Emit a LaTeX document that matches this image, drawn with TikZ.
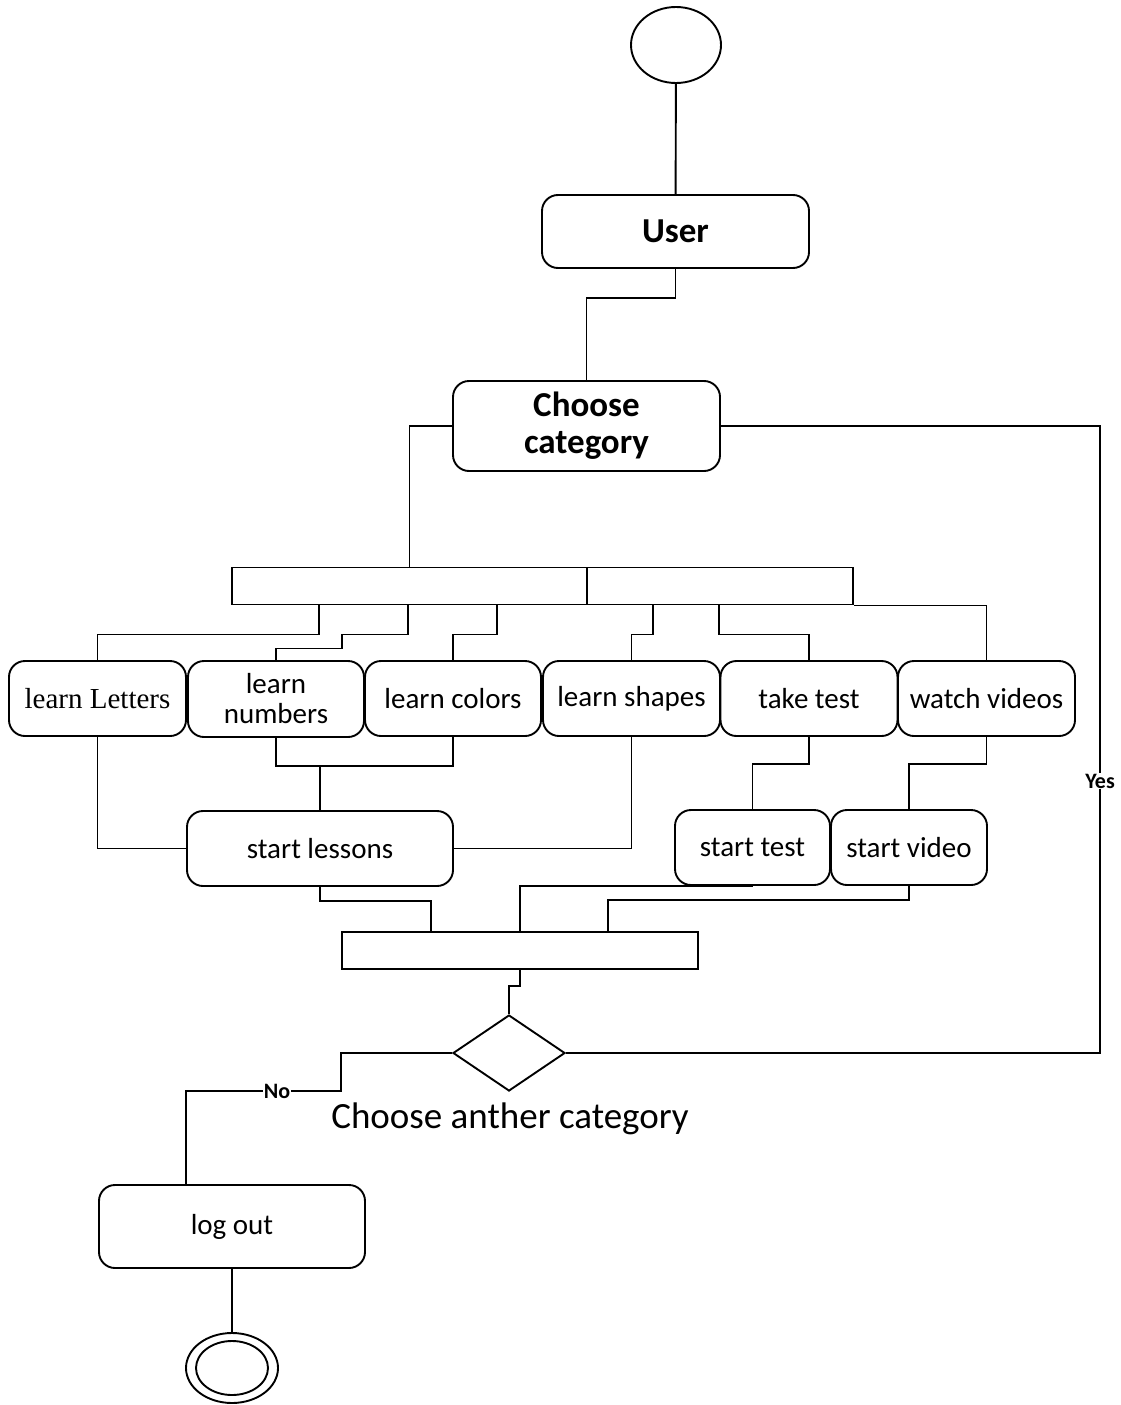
\documentclass[tikz,border=0pt]{standalone}
\usepackage{fontspec}
\setmainfont{Carlito}
\newfontfamily\timesf{Liberation Serif}
\usetikzlibrary{shapes.geometric,calc}
\begin{document}
\begin{tikzpicture}[x=1pt,y=-1pt,line width=1.9pt,
  box/.style={draw,rounded corners=16pt,inner sep=0pt,align=center,font=\fontsize{29}{30}\selectfont},
  bar/.style={draw,inner sep=0pt,minimum height=37pt},
  lbl/.style={fill=white,inner sep=1pt,font=\bfseries\fontsize{22}{23}\selectfont},
  bold/.style={font=\bfseries\fontsize{35}{37}\selectfont}]
\useasboundingbox (0,0) rectangle (1120,1405);
% nodes
\node[draw,ellipse,minimum width=90pt,minimum height=76pt,inner sep=0pt] (start) at (676,45) {};
\node[box,bold,minimum width=267pt,minimum height=73pt] (user) at (675.5,231.5) {User};
\node[box,bold,minimum width=267pt,minimum height=90pt] (choose) at (586.5,426) {\rule{0pt}{5pt}Choose\\category};
\node[bar,minimum width=355pt] (forka) at (409.5,586) {};
\node[bar,minimum width=266pt] (forkb) at (720,586) {};
\node[box,font=\timesf\fontsize{29}{30}\selectfont,minimum width=177pt,minimum height=75pt] (letters) at (97.5,698.5) {learn Letters};
\node[box,minimum width=176pt,minimum height=76pt] (numbers) at (276,699) {learn\\numbers};
\node[box,minimum width=176pt,minimum height=75pt] (colors) at (453,698.5) {learn colors};
\node[box,minimum width=177pt,minimum height=75pt] (shapes) at (631.5,698.5) {learn shapes};
\node[box,minimum width=177pt,minimum height=75pt] (taketest) at (809,698.5) {take test};
\node[box,minimum width=177pt,minimum height=75pt] (videos) at (986.5,698.5) {watch videos};
\node[box,minimum width=266pt,minimum height=75pt] (lessons) at (320,848.5) {start lessons};
\node[box,minimum width=155pt,minimum height=75pt] (sttest) at (752.5,847.5) {start test};
\node[box,minimum width=156pt,minimum height=75pt] (stvideo) at (909,847.5) {start video};
\node[bar,minimum width=356pt] (join) at (520,950.5) {};
\node[draw,diamond,minimum width=112pt,minimum height=76pt,inner sep=0pt] (dec) at (509,1053) {};
\node[font=\fontsize{37}{40}\selectfont,inner sep=0pt] (cat) at (510,1119) {Choose anther category};
\node[box,minimum width=266pt,minimum height=83pt] (logout) at (232,1226.5) {log out};
\node[draw,ellipse,minimum width=92pt,minimum height=70pt,inner sep=0pt] (end) at (232,1368) {};
\node[draw,ellipse,minimum width=72pt,minimum height=54pt,inner sep=0pt] (endin) at (232,1368) {};
\coordinate (yescorner) at (1100,1053);
% connectors
\draw (start) -- (user);
\draw (user.south) -- ++(0,29) -| (choose.north);
\draw (choose.west) -| (forka.north);
\draw (choose.east) -| (yescorner) -- (dec.east);
\draw ([xshift=88pt]forka.south west) -- ++(0,29) -| (letters.north);
\draw ([xshift=177pt]forka.south west) -- ++(0,29) -- ++(-66,0) -- ++(0,14) -| (numbers.north);
\draw ([xshift=266pt]forka.south west) -- ++(0,29) -| (colors.north);
\draw ([xshift=67pt]forkb.south west) -- ++(0,29) -| (shapes.north);
\draw ([xshift=133pt]forkb.south west) -- ++(0,29) -| (taketest.north);
\draw (forkb.south east) -| (videos.north);
\draw (letters.south) |- (lessons.west);
\coordinate (nc) at ([yshift=-28pt]numbers.south);
\draw (numbers.south) -- (nc) -| (colors.south);
\draw (lessons.north) -- (lessons.north |- nc);
\draw (shapes.south) |- (lessons.east);
\draw (taketest.south) -- ++(0,27) -| (sttest.north);
\draw (videos.south) -- ++(0,27) -| (stvideo.north);
\draw (lessons.south) -- ++(0,14) -| ([xshift=90pt]join.north west);
\draw (sttest.south) -| (join.north);
\draw (stvideo.south) -- ++(0,14) -| ([xshift=267pt]join.north west);
\draw (join.south) -- ++(0,16) -| (dec.north);
\draw (dec.west) -- ++(-111,0) -- ++(0,38) -| ([xshift=88pt]logout.north west);
\draw (logout.south) -- (end.north);
\node[lbl] (yes) at (1100,781) {Yes};
\node[lbl] (no) at (277,1091) {No};
\end{tikzpicture}
\end{document}
